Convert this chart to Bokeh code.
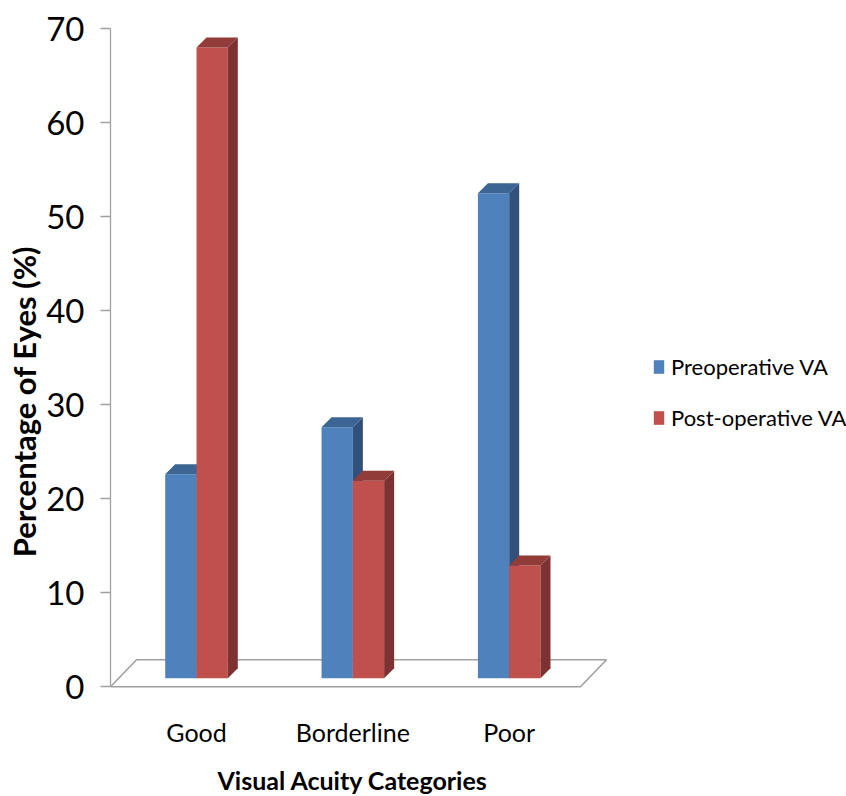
import numpy as np
from bokeh.plotting import figure
from bokeh.models import Range1d, FixedTicker, Legend, LegendItem, ColumnDataSource
from bokeh.core.properties import value
from bokeh.embed import file_html
from bokeh.resources import INLINE

# ---------------- data ----------------
categories = ["Good", "Borderline", "Poor"]
preoperative = [21.7, 26.7, 51.6]
postoperative = [67.1, 21.0, 12.0]
series_names = ["Preoperative VA", "Post-operative VA"]
y_ticks = [0, 10, 20, 30, 40, 50, 60, 70]
x_title = "Visual Acuity Categories"
y_title = "Percentage of Eyes (%)"

# ---------------- layout / style ----------------
W, H = 846, 796
FRAME_L, FRAME_T = 110, 6
PX_PER_CAT = 156.35           # pixels between category centres
PX_Y = 9.4                    # pixels per percentage point
Y0_PX = 686.3                 # page y of value 0
Y_AXIS_MAX = 70
CAT0_PX = 196.0               # page x of first category centre
frame_w = W - FRAME_L
frame_h = H - FRAME_T
Y_MIN = -(H - Y0_PX) / PX_Y
Y_MAX = (Y0_PX - FRAME_T) / PX_Y
X_START = -(CAT0_PX - FRAME_L) / PX_PER_CAT
X_END = X_START + frame_w / PX_PER_CAT

BAR_W = 31.3 / PX_PER_CAT
DX = 10 / PX_PER_CAT          # depth offset of bar back face
DY = 10 / PX_Y
BASE = 8.6 / PX_Y             # bar front face sits a little behind the floor front edge
FLOOR_DX = 26 / PX_PER_CAT
FLOOR_DY = 27 / PX_Y
FLOOR_LEFT_PAD = 0.55
FLOOR_RIGHT_PAD = 0.456
CAT_LABEL_Y = -(731.0 - Y0_PX) / PX_Y
X_TITLE_Y = -(779.0 - Y0_PX) / PX_Y

FONT = "Lato"
AXIS_GRAY = "#a0a0a0"

colors = {
    "front": ["#4F81BD", "#C0504D"],
    "side": ["#31507A", "#7D3130"],
    "top": ["#3C6594", "#923C3A"],
}

p = figure(width=W, height=H, output_backend="svg", toolbar_location=None,
           x_range=Range1d(X_START, X_END), y_range=Range1d(Y_MIN, Y_MAX),
           x_axis_location=None, y_axis_location="left",
           min_border_left=FRAME_L, min_border_top=FRAME_T,
           min_border_bottom=0, min_border_right=0)
p.outline_line_color = None
p.grid.visible = False
p.background_fill_color = "white"
p.border_fill_color = "white"

n = len(categories)
xc = np.arange(n, dtype=float)

# floor
fl = xc[0] - FLOOR_LEFT_PAD
fr = xc[-1] + FLOOR_RIGHT_PAD
p.patch(x=[fl, fl + FLOOR_DX, fr + FLOOR_DX, fr], y=[0, FLOOR_DY, FLOOR_DY, 0],
        fill_color="white", line_color=AXIS_GRAY, line_width=1.6)

legend_items = []
for i, (name, vals) in enumerate(zip(series_names, [preoperative, postoperative])):
    vals = np.array(vals, dtype=float)
    left = xc + (i - 1) * BAR_W
    right = left + BAR_W
    top = BASE + vals
    front = p.quad(left=left, right=right, bottom=BASE, top=top,
                   fill_color=colors["front"][i], line_color=None)
    side_xs = [[r, r + DX, r + DX, r] for r in right]
    side_ys = [[BASE, BASE + DY, t + DY, t] for t in top]
    p.patches(xs=side_xs, ys=side_ys, fill_color=colors["side"][i], line_color=None)
    top_xs = [[l, r, r + DX, l + DX] for l, r in zip(left, right)]
    top_ys = [[t, t, t + DY, t + DY] for t in top]
    p.patches(xs=top_xs, ys=top_ys, fill_color=colors["top"][i], line_color=None)
    legend_items.append(LegendItem(label=name, renderers=[front]))

# category labels and x title
cat_src = ColumnDataSource(dict(x=xc, y=np.full(n, CAT_LABEL_Y), text=categories))
p.text(x="x", y="y", text="text", source=cat_src, text_align="center",
       text_baseline="alphabetic", text_font=value(FONT), text_font_size="25px",
       text_color="black")
p.text(x=[float(xc.mean())], y=[X_TITLE_Y], text=[x_title], text_align="center",
       text_baseline="alphabetic", text_font=value(FONT), text_font_style="bold",
       text_font_size="25px", text_color="black")

# y axis
ya = p.yaxis[0]
ya.bounds = (0, Y_AXIS_MAX)
ya.ticker = FixedTicker(ticks=y_ticks)
ya.axis_line_color = AXIS_GRAY
ya.axis_line_width = 1.3
ya.major_tick_line_color = AXIS_GRAY
ya.major_tick_line_width = 1.3
ya.major_tick_out = 10
ya.major_tick_in = 0
ya.minor_tick_line_color = None
ya.major_label_text_font = FONT
ya.major_label_text_font_size = "33px"
ya.major_label_text_color = "black"
ya.major_label_standoff = 16
ya.axis_label = y_title
ya.axis_label_text_font = FONT
ya.axis_label_text_font_style = "bold"
ya.axis_label_text_font_size = "31px"
ya.axis_label_text_color = "black"
ya.axis_label_standoff = 0

legend = Legend(items=legend_items, location=(542, 365),
                glyph_width=13, glyph_height=17, label_standoff=6, spacing=24,
                padding=0, margin=0, border_line_color=None,
                background_fill_alpha=0,
                label_text_font=FONT, label_text_font_size="22px",
                label_text_color="black")
p.add_layout(legend)

open("out.html", "w").write(file_html(p, INLINE))
